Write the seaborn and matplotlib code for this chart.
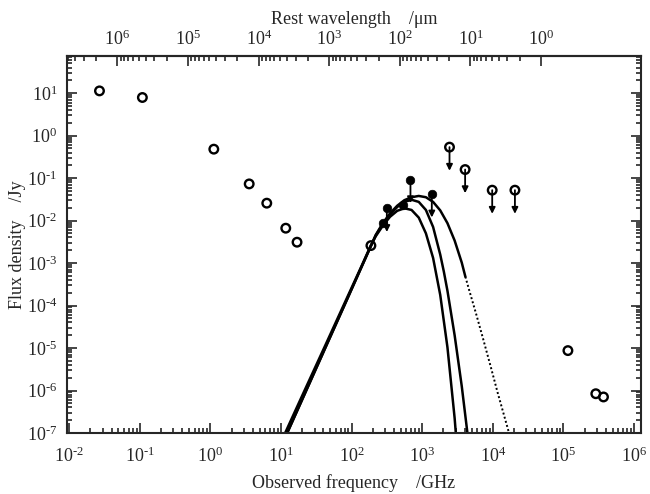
import numpy as np
import matplotlib
matplotlib.use('Agg')
import matplotlib.pyplot as plt
import seaborn as sns
from matplotlib.ticker import LogLocator, FixedLocator, FuncFormatter, NullFormatter

# redshift and c (um * GHz) for the rest wavelength axis
z = 5.2
c_um_ghz = 2.998e5

# open circles: detections (GHz, Jy)
det_nu = [0.0269, 0.109, 1.12, 3.55, 6.3, 11.7, 16.9, 188, 1.16e5, 2.88e5, 3.70e5]
det_s = [11.3, 7.9, 0.48, 0.073, 0.0257, 0.00662, 0.0031, 0.00258, 8.7e-6, 8.4e-7, 7.05e-7]

# open circles with arrows: upper limits
ul_nu = [2440, 4060, 9820, 20600]
ul_s = [0.536, 0.159, 0.052, 0.052]

# filled circles
fill_nu = [683, 1370, 316, 283, 533]
fill_s = [0.0925, 0.0426, 0.0194, 0.0087, 0.0234]
fill_limit = [True, True, True, False, False]

# model curves, log10(GHz) and log10(Jy)
curve_a_lognu = [1.021, 1.326, 1.630, 1.935, 2.139, 2.274, 2.342, 2.443, 2.545, 2.647,
                 2.748, 2.850, 2.952, 3.053, 3.155, 3.256, 3.358, 3.460, 3.510]
curve_a_logs = [-7.14, -6.03, -4.93, -3.82, -3.08, -2.58, -2.37, -2.12, -1.91, -1.77,
                -1.71, -1.75, -1.93, -2.30, -2.88, -3.75, -4.98, -6.65, -7.70]

curve_b_lognu = [1.021, 1.326, 1.630, 1.935, 2.139, 2.274, 2.342, 2.443, 2.545, 2.647,
                 2.748, 2.850, 2.952, 3.053, 3.155, 3.256, 3.307, 3.358, 3.460, 3.561, 3.663]
curve_b_logs = [-7.25, -6.12, -4.99, -3.86, -3.10, -2.60, -2.35, -2.08, -1.86, -1.68,
                -1.56, -1.51, -1.56, -1.75, -2.15, -2.80, -3.20, -3.65, -4.70, -5.90, -7.30]

curve_c_lognu = [1.021, 1.326, 1.630, 1.935, 2.139, 2.274, 2.342, 2.443, 2.545, 2.647,
                 2.748, 2.850, 2.952, 3.053, 3.155, 3.256, 3.358, 3.460, 3.561, 3.612]
curve_c_logs = [-7.25, -6.12, -4.99, -3.86, -3.10, -2.60, -2.34, -2.06, -1.83, -1.65,
                -1.52, -1.45, -1.42, -1.45, -1.56, -1.76, -2.06, -2.47, -2.99, -3.32]

# dotted extrapolation of curve c
curve_c_ext_lognu = [3.612, 3.663, 3.765, 3.866, 3.968, 4.069, 4.171, 4.273]
curve_c_ext_logs = [-3.32, -3.62, -4.20, -4.80, -5.42, -6.05, -6.65, -7.25]

# rest wavelength decades that carry ticks on the top axis
lam_decades = [0, 1, 2, 3, 4, 5, 6]

arrow_drop = 3.6

sns.set_style('ticks')
plt.rcParams['font.family'] = ['Liberation Serif', 'DejaVu Serif']
plt.rcParams['mathtext.fontset'] = 'custom'
plt.rcParams['mathtext.rm'] = 'Liberation Serif'
plt.rcParams['mathtext.it'] = 'Liberation Serif:italic'
plt.rcParams['axes.linewidth'] = 1.5


def pow_label(v, pos):
    # short hyphen in the exponent, like the original figure
    e = str(int(round(np.log10(v)))).replace('-', '\u2010')
    return '$10^{%s}$' % e


fig = plt.figure(figsize=(6.5, 4.94), dpi=100)
ax = fig.add_axes([0.1031, 0.1235, 0.8831, 0.7632])
ax.set_xscale('log')
ax.set_yscale('log')

# model curves
for lognu, logs in [(curve_a_lognu, curve_a_logs), (curve_b_lognu, curve_b_logs),
                    (curve_c_lognu, curve_c_logs)]:
    sns.lineplot(x=10 ** np.array(lognu), y=10 ** np.array(logs), ax=ax, color='k',
                 lw=1.8, sort=False, estimator=None)
sns.lineplot(x=10 ** np.array(curve_c_ext_lognu), y=10 ** np.array(curve_c_ext_logs), ax=ax,
             color='k', lw=1.4, sort=False, estimator=None, linestyle=(0, (1, 1.2)))

# arrows for the limits
lim_nu = ul_nu + [n for n, f in zip(fill_nu, fill_limit) if f]
lim_s = ul_s + [s for s, f in zip(fill_s, fill_limit) if f]
for nu, s in zip(lim_nu, lim_s):
    ax.annotate('', xy=(nu, s / arrow_drop), xytext=(nu, s),
                arrowprops=dict(arrowstyle='-|>', color='k', lw=1.3, shrinkA=0, shrinkB=0,
                                mutation_scale=9))

sns.scatterplot(x=det_nu + ul_nu, y=det_s + ul_s, ax=ax, marker='o', s=38,
                facecolor='none', edgecolor='k', linewidth=1.7, zorder=5)
sns.scatterplot(x=fill_nu, y=fill_s, ax=ax, marker='o', s=38, color='k',
                edgecolor='k', linewidth=0.5, zorder=5)

ax.set_xlim(10 ** -2.03, 10 ** 6.1)
ax.set_ylim(1e-7, 75)

for axis in [ax.xaxis, ax.yaxis]:
    axis.set_major_locator(LogLocator(base=10, numticks=30))
    axis.set_minor_locator(LogLocator(base=10, subs=np.arange(2, 10), numticks=30))
    axis.set_major_formatter(FuncFormatter(pow_label))
    axis.set_minor_formatter(NullFormatter())

ax.tick_params(which='both', direction='in', top=False, right=True, width=1.2)
ax.tick_params(which='major', length=7, labelsize=13)
ax.tick_params(which='minor', length=3.5)
ax.tick_params(axis='x', which='major', pad=10)
ax.tick_params(axis='y', which='major', pad=7)
ax.set_xlabel('Observed frequency    /GHz', fontsize=13, labelpad=6)
ax.set_ylabel('Flux density    /Jy', fontsize=13)
ax.yaxis.set_label_coords(-0.071, 0.5)


def nu_to_lam(x):
    x = np.asarray(x, dtype=float)
    with np.errstate(divide='ignore', invalid='ignore'):
        return c_um_ghz / (x * (1 + z))


secax = ax.secondary_xaxis('top', functions=(nu_to_lam, nu_to_lam))
secax.xaxis.set_major_locator(FixedLocator([10.0 ** d for d in lam_decades]))
secax.xaxis.set_minor_locator(FixedLocator([m * 10.0 ** d for d in lam_decades for m in range(2, 10)]))
secax.xaxis.set_major_formatter(FuncFormatter(pow_label))
secax.tick_params(which='both', direction='in', width=1.2)
secax.tick_params(which='major', length=7, labelsize=13, pad=5)
secax.tick_params(which='minor', length=3.5)
secax.set_xlabel('Rest wavelength    /μm', fontsize=13, labelpad=4)

fig.savefig('out.png', dpi=100)
